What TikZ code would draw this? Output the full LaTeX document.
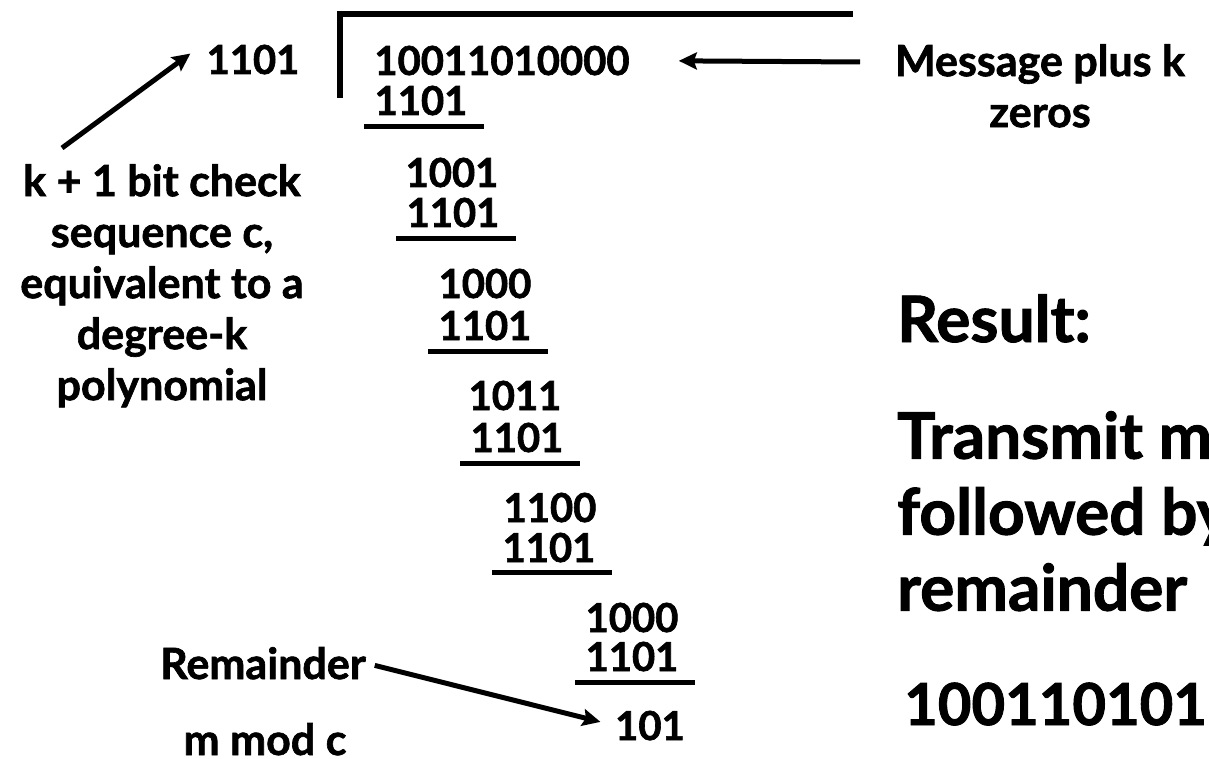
\documentclass[tikz,border=0pt]{standalone}
\usepackage{fontspec}
\setmainfont{Lato}[BoldFeatures={FakeBold=1.5}]
\usetikzlibrary{arrows.meta}
\tikzset{
  bits/.style={font=\bfseries\fontsize{40}{48}\selectfont, anchor=base, inner sep=0pt},
  note/.style={font=\bfseries\fontsize{43}{51}\selectfont, align=center, inner sep=0pt},
  big/.style={font=\bfseries\fontsize{64}{76}\selectfont, align=left, inner sep=0pt},
  rule/.style={line width=5pt},
  arr/.style={line width=5pt, -{Stealth[length=18pt,width=17pt,inset=3pt]}},
}
\begin{document}
\begin{tikzpicture}[x=1pt,y=-1pt]
  \useasboundingbox (0,0) rectangle (1209,759);
  \clip (0,0) rectangle (1209,759);
  % divisor, dividend and the division bracket
  \node[bits] (dvsr) at (253,74) {1101};
  \node[bits] (dvd) at (502,75) {10011010000};
  \draw[line width=6pt] (340,98) |- (853,14);
  % the long division steps
  \node[bits] (p0) at (421,115) {1101};
  \draw[rule] (364,127) -- (484,127);
  \node[bits] (r1) at (452,187) {1001};
  \node[bits] (p1) at (453,227) {1101};
  \draw[rule] (396,239) -- (516,239);
  \node[bits] (r2) at (485,298) {1000};
  \node[bits] (p2) at (485,340) {1101};
  \draw[rule] (428,351) -- (548,351);
  \node[bits] (r3) at (515,410) {1011};
  \node[bits] (p3) at (517,452) {1101};
  \draw[rule] (460,463) -- (580,463);
  \node[bits] (r4) at (550,522) {1100};
  \node[bits] (p4) at (549,562) {1101};
  \draw[rule] (492,572) -- (612,572);
  \node[bits] (r5) at (632,632) {1000};
  \node[bits] (p5) at (632,671) {1101};
  \draw[rule] (575,682) -- (695,682);
  \node[bits] (rem) at (650,740) {101};
  % labels
  \node[note, anchor=north] (chk) at (162,164)
    {k + 1 bit check\\sequence c,\\equivalent to a\\degree-k\\polynomial};
  \node[note, anchor=north] (msg) at (1040,44) {Message plus k\\zeros};
  \node[note, anchor=base] (remlbl) at (263,679) {Remainder};
  \node[note, anchor=base] (mod) at (265,755) {m mod c};
  \node[big, anchor=base west] (res) at (897,342) {Result:};
  \node[big, anchor=north west] (tx) at (897,411) {Transmit m\\followed by\\remainder};
  \node[big, anchor=base west, font=\bfseries\fontsize{58}{70}\selectfont] (cw) at (904,725) {100110101};
  % arrows
  \coordinate (ctail) at (62,148);
  \coordinate (msgtail) at (860,62);
  \draw[arr] (ctail) -- ([xshift=-16pt,yshift=6pt]dvsr.west);
  \draw[arr, shorten >=49pt] (msgtail) -- (dvd.east);
  \draw[arr, shorten <=9pt, shorten >=15pt] (remlbl.east) -- (rem.west);
\end{tikzpicture}
\end{document}
